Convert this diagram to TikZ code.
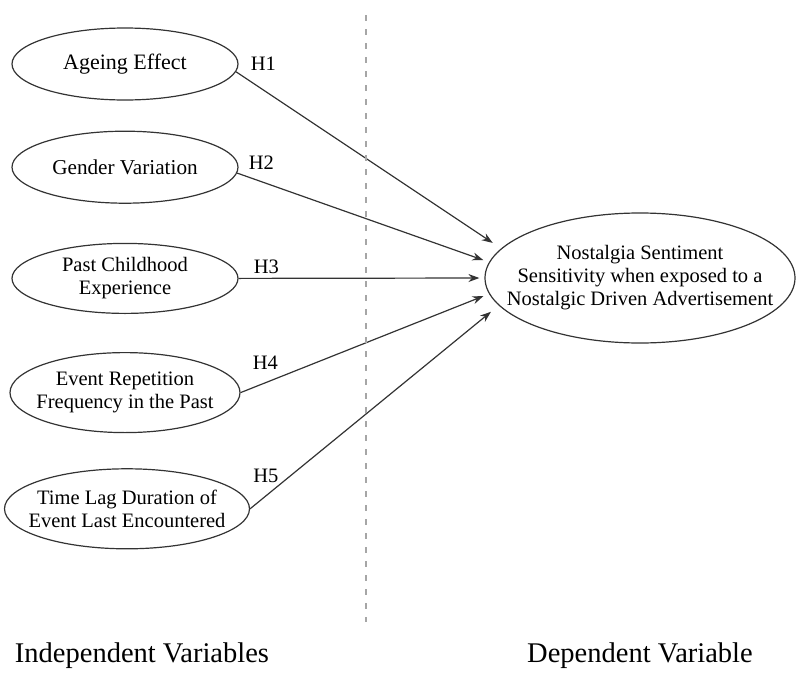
\documentclass[tikz,border=0pt]{standalone}
\usepackage{fontspec}
\setmainfont{Liberation Serif}
\usepackage{tikz}
\usetikzlibrary{positioning,arrows.meta,shapes.geometric}

\begin{document}
\begin{tikzpicture}[
  x=1pt, y=-1pt,
  every node/.style={font=\fontsize{20.5}{23}\selectfont},
  var/.style={
    draw=black!80, line width=1.2pt, ellipse, align=center,
    inner xsep=-20pt, inner ysep=2pt,
    minimum width=226pt, minimum height=72pt,
  },
  depvar/.style={var, inner xsep=-28pt, minimum width=310pt, minimum height=130pt},
  hyp/.style={inner sep=1pt, font=\fontsize{20.5}{23}\selectfont},
  caption/.style={inner sep=1pt, font=\fontsize{28.5}{32}\selectfont},
  arr/.style={-{Stealth[length=11pt,width=8pt]}, line width=1.2pt, black!80, shorten >=5pt},
  divider/.style={gray!70, line width=1.6pt, dash pattern=on 6pt off 8pt},
]
\useasboundingbox (0,0) rectangle (796,675);

% independent variables
\node[var, font=\fontsize{22}{24}\selectfont] (age) at (125,64) {Ageing Effect};
\node[var, below=30pt of age, font=\fontsize{21.2}{24}\selectfont] (gen) {Gender Variation};
\node[var, below=39pt of gen, minimum height=70pt] (past) {Past Childhood\\Experience};
\node[var, below=38pt of past, minimum width=230pt, minimum height=80pt] (event) {Event Repetition\\Frequency in the Past};
\node[var, below=35pt of event, minimum width=245pt, minimum height=80pt, xshift=2pt] (lag) {Time Lag Duration of\\Event Last Encountered};

% dependent variable
\node[depvar] (dv) at (640,278) {Nostalgia Sentiment\\Sensitivity when exposed to a\\Nostalgic Driven Advertisement};

% hypotheses
\node[hyp, right=11pt of age.east] (h1) {H1};
\node[hyp, right=9pt of gen.east, yshift=4pt] (h2) {H2};
\node[hyp, right=14pt of past.east, yshift=12pt] (h3) {H3};
\node[hyp, right=11pt of event.east, yshift=30pt] (h4) {H4};
\node[hyp, right=2pt of lag.east, yshift=33pt] (h5) {H5};

\draw[arr, shorten >=10pt] (age.-4) -- (dv.168);
\draw[arr, shorten >=6pt] (gen.-3) -- (dv.174.5);
\draw[arr] (past.east) -- (dv.west);
\draw[arr, shorten >=6pt] (event.east) -- (dv.186);
\draw[arr, shorten >=10pt] (lag.east) -- (dv.191);

% divider and captions
\coordinate (top) at (366,15);
\coordinate (bot) at (366,622);
\draw[divider] (top) -- (bot);

\node[caption] (indep) at (142,656) {Independent Variables};
\node[caption] (dep) at (640,656) {Dependent Variable};

\end{tikzpicture}
\end{document}
